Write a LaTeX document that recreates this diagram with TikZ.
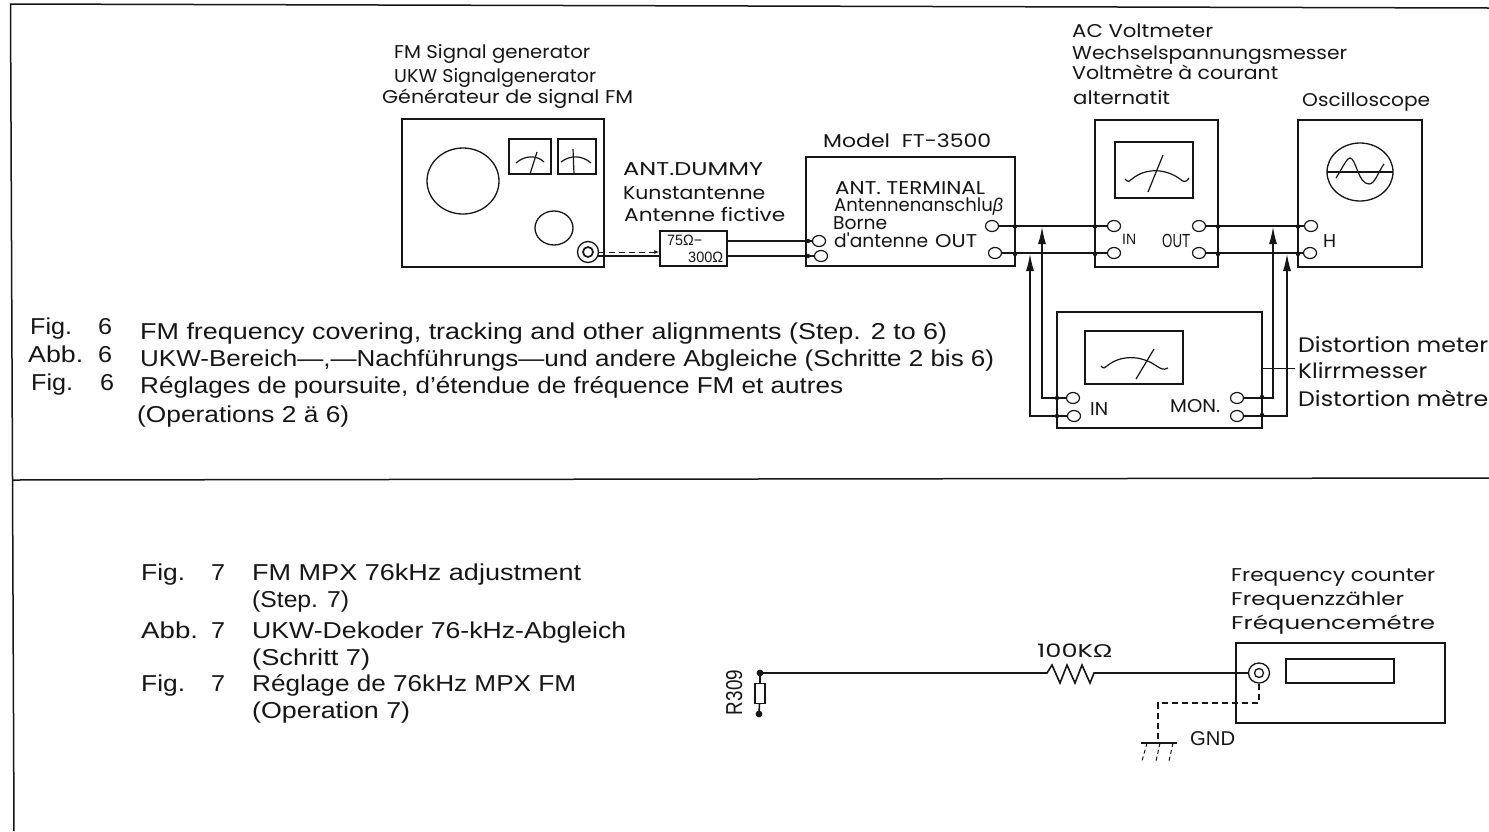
\documentclass[tikz,border=0pt]{standalone}
\usepackage{fontspec}
\setmainfont{Liberation Sans}
\newfontfamily\geo{Poppins}
\newfontfamily\plain{Liberation Sans}
\usetikzlibrary{arrows.meta,shapes.geometric}
\definecolor{ink}{HTML}{161616}
\newcommand\fw[2]{\resizebox{#1pt}{\height}{#2}}
\tikzset{
 box/.style={draw=ink,line width=2.1pt,fill=none},
 thin box/.style={draw=ink,line width=1.4pt},
 wire/.style={draw=ink,line width=1.6pt},
 lwire/.style={draw=ink,line width=1.2pt},
 term/.style={draw=ink,line width=1.2pt,fill=white,ellipse,inner sep=0pt,minimum width=13pt,minimum height=11pt},
 lab/.style={anchor=base west,inner sep=0pt,text=ink,font=\fontsize{18.5}{18.5}\selectfont\geo},
 captext/.style={anchor=base west,inner sep=0pt,text=ink,font=\fontsize{23}{23}\selectfont},
 small/.style={anchor=base west,inner sep=0pt,text=ink,font=\fontsize{15}{15}\selectfont},
 arr/.style={lwire,-{Latex[length=17pt,width=8pt]}},
 dashline/.style={draw=ink,line width=1.2pt,dash pattern=on 6pt off 4pt},
}
\begin{document}
\begin{tikzpicture}[x=1pt,y=-1pt]
\useasboundingbox (0,0) rectangle (1489,831);
\fill[white] (0,0) rectangle (1489,831);
% frame
\coordinate (ftl) at (10.5,4);
\coordinate (ftr) at (1489,8);
\coordinate (fbl) at (14,831);
\coordinate (fml) at (12.5,480);
\coordinate (fmr) at (1489,478);
\draw[ink,line width=1.5pt] (fbl) -- (ftl) -- (ftr);
\draw[ink,line width=1.5pt] (fml) -- (fmr);
% signal generator
\draw[box] (402,119) rectangle (604,267);
\draw[ink,line width=1.3pt] (463,181) ellipse [x radius=36,y radius=33];
\draw[ink,line width=1.3pt] (554,228) ellipse [x radius=19,y radius=17];
\draw[thin box] (509,139) rectangle (551,174);
\draw[thin box] (558,139) rectangle (596,174);
\draw[ink,line width=1.2pt] (516,163) .. controls (525,155) and (537,155) .. (544,162);
\draw[ink,line width=1.2pt] (530,174) -- (537,152);
\draw[ink,line width=1.2pt] (561,162) .. controls (570,155) and (582,155) .. (591,163);
\draw[ink,line width=1.2pt] (574,174) -- (573,149);
\node[draw=ink,line width=1.3pt,circle,minimum size=21pt,inner sep=0pt] (coax) at (588,252) {};
\node[draw=ink,line width=1.7pt,circle,minimum size=10pt,inner sep=0pt] (coaxin) at (588,252) {};
% dummy
\node[thin box,minimum width=67pt,minimum height=35pt,inner sep=0pt] (dummy) at (693.5,248.5) {};
\node[small] (d1) at (667,245) {\fw{35}{75Ω−}};
\node[small] (d2) at (688,262) {\fw{35}{300Ω}};
\draw[dashline,line width=1pt,-{Latex[length=5pt,width=4pt]}] (coax.east) -- (dummy.west |- coax.east);
\draw[wire] (597,256) -- (660,256);
% model
\draw[box] (806,157) rectangle (1015,266);
\node[term] (mi1) at (819,241) {};
\node[term] (mi2) at (821,256) {};
\fill[ink] (808,241) circle (2.2) (808,256) circle (2.2);
\draw[wire] (dummy.east |- mi1) -- (mi1);
\draw[wire] (dummy.east |- mi2) -- (mi2);
\node[term] (mo1) at (992,226) {};
\node[term] (mo2) at (995,253) {};
% AC
\draw[box] (1095,120) rectangle (1218,267);
\draw[thin box] (1115,142) rectangle (1193,198);
\draw[ink,line width=1.2pt] (1125,179) .. controls (1128,183) and (1130,181) .. (1132,179) .. controls (1145,168) and (1165,168) .. (1180,179) .. controls (1183,182) and (1186,183) .. (1189,178);
\draw[ink,line width=1.2pt] (1148,192) -- (1163,155);
\node[term] (ai1) at (1114,226) {};
\node[term] (ai2) at (1114,253) {};
\node[term] (ao1) at (1199,226) {};
\node[term] (ao2) at (1199,253) {};
% scope
\draw[box] (1298,120) rectangle (1422,267);
\draw[ink,line width=1.3pt] (1360,172) ellipse [x radius=33,y radius=29];
\draw[ink,line width=1.4pt] (1327,172) -- (1393,172);
\draw[ink,line width=1.2pt] (1336,178) .. controls (1344,165) and (1347,158) .. (1350,158) .. controls (1356,158) and (1358,184) .. (1369,184) .. controls (1375,184) and (1378,172) .. (1384,164);
\node[term] (h1) at (1311,226) {};
\node[term] (h2) at (1310,253) {};
% distortion
\draw[box] (1057,312) rectangle (1262,428);
\draw[thin box] (1085,331) rectangle (1183,384);
\draw[ink,line width=1.2pt] (1101,366) .. controls (1103,369) and (1105,368) .. (1107,366) .. controls (1120,355) and (1140,355) .. (1155,365) .. controls (1160,368) and (1163,371) .. (1168,368);
\draw[ink,line width=1.2pt] (1136,379) -- (1154,349);
\node[term] (di1) at (1073,398) {};
\node[term] (di2) at (1074,416) {};
\node[term] (dm1) at (1237,398) {};
\node[term] (dm2) at (1237,416) {};
% wires
\draw[wire] (mo1) -- (ai1);
\draw[wire] (mo2) -- (ai2);
\draw[wire] (ao1) -- (h1);
\draw[wire] (ao2) -- (h2);
\fill[ink] (1015,226.5) circle (2.2) (1015,254) circle (2.2) (1095,226.5) circle (2.2) (1095,254) circle (2.2) (1218,226.5) circle (2.2) (1218,254) circle (2.2) (1298,226.5) circle (2.2) (1298,254) circle (2.2) (1057,398) circle (2.2) (1057,416) circle (2.2) (1262,397) circle (2.2) (1262,415) circle (2.2);
\draw[arr] (di1) -| (1042,227);
\draw[arr] (di2) -| (1030,254);
\draw[arr] (dm1) -| (1273,227);
\draw[arr] (dm2) -| (1287,254);
\coordinate (tickl) at (1263,368);
\coordinate (tick) at (1295,368);
\draw[ink,line width=1pt] (tickl) -- (tick);
% texts top
\node[lab] (t1) at (394,58) {\fw{196}{FM Signal generator}};
\node[lab] (t2) at (394,82) {\fw{202}{UKW Signalgenerator}};
\node[lab] (t3) at (382,103) {\fw{251}{Générateur de signal FM}};
\node[lab] (t4) at (623,175) {\fw{140}{ANT.DUMMY}};
\node[lab] (t5) at (623,199) {\fw{142}{Kunstantenne}};
\node[lab] (t6) at (624,221) {\fw{161}{Antenne fictive}};
\node[lab] (t7) at (823,147) {\fw{168}{Model~~FT-3500}};
\node[lab] (t8) at (835,194) {\fw{150}{ANT. TERMINAL}};
\node[lab] (t9) at (834,211) {\fw{169}{Antennenanschlu{\plain\itshape β}}};
\node[lab] (t10) at (833,229) {\fw{54}{Borne}};
\node[lab] (t11) at (834,247) {\fw{94}{d'antenne}};
\node[lab] (t11b) at (935,247) {\fw{42}{OUT}};
\node[lab] (t12) at (1072,37) {\fw{141}{AC Voltmeter}};
\node[lab] (t13) at (1072,59) {\fw{275}{Wechselspannungsmesser}};
\node[lab] (t14) at (1072,79) {\fw{206}{Voltmètre à courant}};
\node[lab] (t15) at (1073,104) {\fw{97}{alternatit}};
\node[lab] (t16) at (1302,106) {\fw{128}{Oscilloscope}};
\node[small] (t17) at (1122,244) {\fw{14}{IN}};
\node[small,font=\fontsize{19}{19}\selectfont] (t18) at (1162,247) {\fw{28}{OUT}};
\node[lab] (t19) at (1323,247) {\fw{13}{H}};
\node[lab] (t20) at (1090,415) {\fw{18}{IN}};
\node[lab] (t21) at (1170,412) {\fw{50}{MON.}};
\node[lab,font=\fontsize{21}{21}\selectfont\geo] (t22) at (1298,352) {\fw{190}{Distortion meter}};
\node[lab,font=\fontsize{21}{21}\selectfont\geo] (t23) at (1298,378) {\fw{129}{Klirrmesser}};
\node[lab,font=\fontsize{21}{21}\selectfont\geo] (t24) at (1298,406) {\fw{190}{Distortion mètre}};
% captions
\node[captext] (c1) at (30,334) {\fw{42}{Fig.}};
\node[captext] (c2) at (98,334) {\fw{14}{6}};
\node[captext] (c3) at (140,339) {\fw{807}{FM frequency covering, tracking and other alignments (Step. 2 to 6)}};
\node[captext] (c4) at (28,362) {\fw{55}{Abb.}};
\node[captext] (c4b) at (98,362) {\fw{14}{6}};
\node[captext] (c5) at (140,366) {\fw{854}{UKW-Bereich—,—Nachführungs—und andere Abgleiche (Schritte 2 bis 6)}};
\node[captext] (c6) at (31,390) {\fw{42}{Fig.}};
\node[captext] (c7) at (100,390) {\fw{14}{6}};
\node[captext] (c8) at (140,393) {\fw{703}{Réglages de poursuite, d'étendue de fréquence FM et autres}};
\node[captext] (c9) at (137,422) {\fw{212}{(Operations 2 ä 6)}};
\node[captext] (c10) at (141,580) {\fw{44}{Fig.}};
\node[captext] (c11) at (211,580) {\fw{14}{7}};
\node[captext] (c12) at (252,580) {\fw{329}{FM MPX 76kHz adjustment}};
\node[captext] (c13) at (252,607) {\fw{97}{(Step. 7)}};
\node[captext] (c14) at (141,638) {\fw{57}{Abb.}};
\node[captext] (c15) at (211,638) {\fw{14}{7}};
\node[captext] (c16) at (252,638) {\fw{374}{UKW-Dekoder 76-kHz-Abgleich}};
\node[captext] (c17) at (252,665) {\fw{118}{(Schritt 7)}};
\node[captext] (c18) at (141,691) {\fw{44}{Fig.}};
\node[captext] (c19) at (211,691) {\fw{14}{7}};
\node[captext] (c20) at (252,691) {\fw{324}{Réglage de 76kHz MPX FM}};
\node[captext] (c21) at (252,718) {\fw{158}{(Operation 7)}};
% bottom circuit
\node[lab] (f1) at (1231,581) {\fw{204}{Frequency counter}};
\node[lab] (f2) at (1231,605) {\fw{173}{Frequenzzähler}};
\node[lab] (f3) at (1231,629) {\fw{204}{Fréquencemétre}};
\draw[box] (1236,643) rectangle (1445,723);
\draw[thin box] (1286,659) rectangle (1394,683);
\node[draw=ink,line width=1.3pt,ellipse,minimum width=21pt,minimum height=20pt,inner sep=0pt] (fc) at (1259,673) {};
\node[draw=ink,line width=1.3pt,circle,minimum size=9pt,inner sep=0pt] (fcin) at (1259,673) {};
\coordinate (r1) at (760,673);
\coordinate (r2) at (759,714);
\fill[ink] (r1) circle (3.4) (r2) circle (3.4);
\node[draw=ink,line width=1.2pt,minimum width=10pt,minimum height=20pt,inner sep=0pt] (r309) at (760,693.5) {};
\draw[wire] (r1) -- (r309) -- (r2);
\draw[wire] (r1) -- (1047,673) -- (1052,665) -- (1060,683) -- (1067,665) -- (1075,683) -- (1082,665) -- (1090,683) -- (1094,673) -- (1104,673) -- (fc);
\node[lab] (ohm) at (1037,657) {\fw{75}{100K{\plain Ω}}};
\node[anchor=base,rotate=90,inner sep=0pt,text=ink,font=\fontsize{23}{23}\selectfont] (rl) at (742,692.5) {\fw{45}{R309}};
\coordinate (g1) at (1158,703);
\coordinate (g2) at (1158,743);
\draw[dashline] (fc) -- (fc |- g1) -- (g1) -- (g2);
\coordinate (gl) at (1141,743);
\coordinate (gr) at (1177,743);
\draw[ink,line width=1.2pt] (gl) -- (gr);
\draw[ink,line width=1pt,dash pattern=on 4pt off 3pt] (1147,743) -- (1142,761) (1160,743) -- (1156,761) (1173,743) -- (1169,761);
\node[small,font=\fontsize{20}{20}\selectfont] (gnd) at (1190,745) {\fw{45}{GND}};
\end{tikzpicture}
\end{document}
